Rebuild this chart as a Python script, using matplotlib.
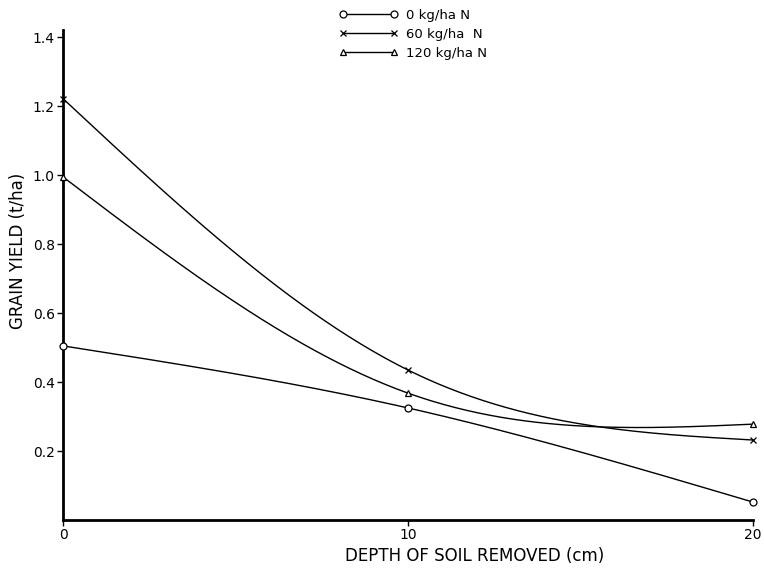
import numpy as np
import matplotlib
matplotlib.use("Agg")
import matplotlib.pyplot as plt

# depth of soil removed (cm)
depth = [0, 10, 20]

# grain yield (t/ha) per nitrogen rate
yield_0n = [0.505, 0.325, 0.052]
yield_60n = [1.222, 0.435, 0.232]
yield_120n = [0.995, 0.368, 0.278]

labels = ["0 kg/ha N", "60 kg/ha  N", "120 kg/ha N"]
markers = ["o", "x", "^"]

x_ticks = [0, 10, 20]
y_ticks = [0.2, 0.4, 0.6, 0.8, 1.0, 1.2, 1.4]


def natural_spline(x, y, n=300):
    # natural cubic spline through the points, for a hand-drawn look
    x = np.asarray(x, float)
    y = np.asarray(y, float)
    k = len(x)
    h = np.diff(x)
    A = np.zeros((k, k))
    b = np.zeros(k)
    A[0, 0] = A[-1, -1] = 1.0
    for i in range(1, k - 1):
        A[i, i - 1] = h[i - 1]
        A[i, i] = 2 * (h[i - 1] + h[i])
        A[i, i + 1] = h[i]
        b[i] = 6 * ((y[i + 1] - y[i]) / h[i] - (y[i] - y[i - 1]) / h[i - 1])
    M = np.linalg.solve(A, b)
    xs = np.linspace(x[0], x[-1], n)
    idx = np.clip(np.searchsorted(x, xs) - 1, 0, k - 2)
    x0, x1 = x[idx], x[idx + 1]
    hh = x1 - x0
    t0, t1 = x1 - xs, xs - x0
    ys = (M[idx] * t0 ** 3 / (6 * hh) + M[idx + 1] * t1 ** 3 / (6 * hh)
          + (y[idx] / hh - M[idx] * hh / 6) * t0
          + (y[idx + 1] / hh - M[idx + 1] * hh / 6) * t1)
    return xs, ys


plt.rcParams["font.family"] = ["DejaVu Sans"]

fig = plt.figure(figsize=(7.64, 5.68), dpi=100)
ax = fig.add_axes([0.0825, 0.0845, 0.903, 0.862])

handles = []
for ys, lab, mk in zip([yield_0n, yield_60n, yield_120n], labels, markers):
    sx, sy = natural_spline(depth, ys)
    ax.plot(sx, sy, color="black", lw=1.0, clip_on=False)
    ax.plot(depth, ys, linestyle="none", marker=mk, ms=5, mfc="white",
            mec="black", mew=0.9, clip_on=False, zorder=3)
    h, = ax.plot([], [], color="black", lw=1.0, marker=mk, ms=5,
                 mfc="white", mec="black", mew=0.9)
    handles.append(h)

ax.set_xlim(0, 20)
ax.set_ylim(0, 1.42)
ax.set_xticks(x_ticks)
ax.set_xticklabels([str(t) for t in x_ticks], fontsize=10)
ax.set_yticks(y_ticks)
ax.set_yticklabels([f"{t:.1f}" for t in y_ticks], fontsize=10)

for s in ["top", "right"]:
    ax.spines[s].set_visible(False)
for s in ["left", "bottom"]:
    ax.spines[s].set_linewidth(2.0)
ax.tick_params(direction="out", length=4, width=1.0, pad=2)

ax.set_xlabel("DEPTH OF SOIL REMOVED (cm)", fontsize=12)
ax.xaxis.set_label_coords(0.597, -0.055)
ax.set_ylabel("GRAIN YIELD (t/ha)", fontsize=12)
ax.yaxis.set_label_coords(-0.052, 0.55)

fig.legend(handles, labels, loc="upper left", bbox_to_anchor=(0.428, 1.005),
           frameon=False, numpoints=2, fontsize=9.5, handlelength=4.5,
           labelspacing=0.45, handletextpad=0.6)

fig.savefig("out.png", dpi=100)
